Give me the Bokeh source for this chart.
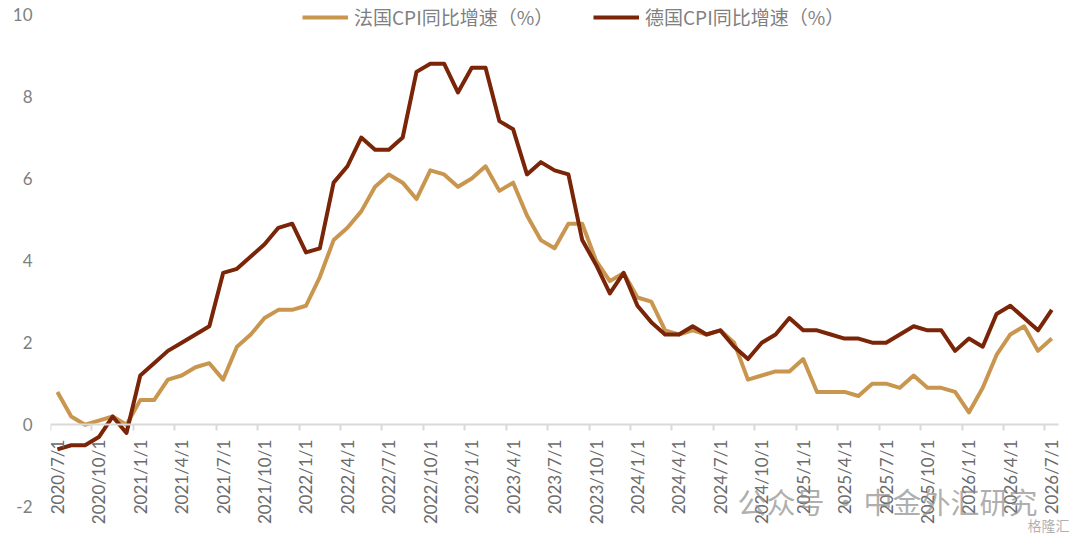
from math import pi
from bokeh.plotting import figure
from bokeh.models import Range1d, LinearAxis, FixedTicker, Legend, LegendItem, Label
from bokeh.embed import file_html
from bokeh.resources import INLINE

# ---------------- data ----------------
tick_labels = [
    "2020/7/1", "2020/10/1", "2021/1/1", "2021/4/1", "2021/7/1", "2021/10/1",
    "2022/1/1", "2022/4/1", "2022/7/1", "2022/10/1", "2023/1/1", "2023/4/1",
    "2023/7/1", "2023/10/1", "2024/1/1", "2024/4/1", "2024/7/1", "2024/10/1",
    "2025/1/1", "2025/4/1", "2025/7/1", "2025/10/1", "2026/1/1", "2026/4/1",
    "2026/7/1",
]
label_step = 3  # one label every 3 months

france = [
    0.8, 0.2, 0.0, 0.1, 0.2, 0.0, 0.6, 0.6, 1.1, 1.2, 1.4, 1.5,
    1.1, 1.9, 2.2, 2.6, 2.8, 2.8, 2.9, 3.6, 4.5, 4.8, 5.2, 5.8,
    6.1, 5.9, 5.5, 6.2, 6.1, 5.8, 6.0, 6.3, 5.7, 5.9, 5.1, 4.5,
    4.3, 4.9, 4.9, 4.0, 3.5, 3.7, 3.1, 3.0, 2.3, 2.2, 2.3, 2.2,
    2.3, 2.0, 1.1, 1.2, 1.3, 1.3, 1.6, 0.8, 0.8, 0.8, 0.7, 1.0,
    1.0, 0.9, 1.2, 0.9, 0.9, 0.8, 0.3, 0.9, 1.7, 2.2, 2.4, 1.8,
    2.1,
]
germany = [
    -0.6, -0.5, -0.5, -0.3, 0.2, -0.2, 1.2, 1.5, 1.8, 2.0, 2.2, 2.4,
    3.7, 3.8, 4.1, 4.4, 4.8, 4.9, 4.2, 4.3, 5.9, 6.3, 7.0, 6.7,
    6.7, 7.0, 8.6, 8.8, 8.8, 8.1, 8.7, 8.7, 7.4, 7.2, 6.1, 6.4,
    6.2, 6.1, 4.5, 3.9, 3.2, 3.7, 2.9, 2.5, 2.2, 2.2, 2.4, 2.2,
    2.3, 1.9, 1.6, 2.0, 2.2, 2.6, 2.3, 2.3, 2.2, 2.1, 2.1, 2.0,
    2.0, 2.2, 2.4, 2.3, 2.3, 1.8, 2.1, 1.9, 2.7, 2.9, 2.6, 2.3,
    2.8,
]
y_ticks = [-2, 0, 2, 4, 6, 8, 10]
series_names = ["法国CPI同比增速（%）", "德国CPI同比增速（%）"]
colors = ["#C9964F", "#7A2508"]
watermark = ["公众号", "·", "中金外汇研究", "格隆汇"]

# ---------------- figure ----------------
n = len(france)
x = [i + 0.5 for i in range(n)]  # points at category centres

# ranges padded a little so that overlay texts near the edges are not clipped
p = figure(
    width=1072, height=535,
    x_range=Range1d(0, n + 1.0), y_range=Range1d(-2.7, y_ticks[-1] + 0.34),
    x_axis_location=None,
    output_backend="svg", toolbar_location=None,
    min_border_left=50, min_border_right=0, min_border_top=0, min_border_bottom=0,
)
p.outline_line_color = None
p.grid.visible = False
p.background_fill_color = "white"
p.border_fill_color = "white"

label_font = "Lato"
gray = "#7f7f7f"

# y axis
p.yaxis.ticker = FixedTicker(ticks=y_ticks)
p.yaxis.major_label_overrides = {t: str(t) for t in y_ticks}
p.yaxis.axis_line_color = None
p.yaxis.major_tick_line_color = None
p.yaxis.minor_tick_line_color = None
p.yaxis.major_tick_out = 0
p.yaxis.major_tick_in = 0
p.yaxis.major_label_standoff = 18
p.yaxis.major_label_text_font = label_font
p.yaxis.major_label_text_font_size = "17px"
p.yaxis.major_label_text_color = gray

# x axis: line + ticks at category boundaries, drawn at y = 0
boundaries = list(range(0, n, label_step))
tick_axis = LinearAxis(
    fixed_location=0,
    bounds=(0, n),
    ticker=FixedTicker(ticks=boundaries, minor_ticks=[]),
    major_label_overrides={b: "" for b in boundaries},
    major_label_text_font_size="0px",
    axis_line_color="#d9d9d9", axis_line_width=2,
    major_tick_line_color="#d9d9d9", major_tick_line_width=2,
    major_tick_out=6, major_tick_in=0,
    minor_tick_line_color=None,
)
p.add_layout(tick_axis, "below")

# x axis labels at category centres
centres = [b + 0.5 for b in boundaries]
label_axis = LinearAxis(
    fixed_location=0,
    ticker=FixedTicker(ticks=centres, minor_ticks=[]),
    major_label_overrides={c: lab for c, lab in zip(centres, tick_labels)},
    major_label_orientation=pi / 2,
    axis_line_color=None,
    major_tick_line_color=None, minor_tick_line_color=None,
    major_tick_out=0, major_tick_in=0,
    major_label_standoff=15,
    major_label_text_font=label_font,
    major_label_text_font_size="17px",
    major_label_text_color="#6b6b6b",
)
p.add_layout(label_axis, "below")

# lines
r_fr = p.line(x, france, line_color=colors[0], line_width=4, line_join="round")
r_de = p.line(x, germany, line_color=colors[1], line_width=4, line_join="round")

# legends (two separate boxes so each sits where the reference puts it)
for r, name, vx in [(r_fr, series_names[0], 252), (r_de, series_names[1], 543)]:
    lg = Legend(
        items=[LegendItem(label=name, renderers=[r])],
        location=(vx, 505), orientation="horizontal",
        border_line_color=None, background_fill_alpha=0,
        padding=0, margin=0, spacing=0,
        glyph_width=46, glyph_height=20, label_height=20, label_standoff=6,
        label_text_font="Noto Sans CJK SC", label_text_font_size="19px",
        label_text_color="#808080",
    )
    p.add_layout(lg, "center")

# watermark overlay
wm = dict(x_units="screen", y_units="screen", text_font="Noto Sans CJK SC",
          text_color="#8c8c8c", text_alpha=0.7, text_baseline="middle")
p.add_layout(Label(x=687, y=35, text=watermark[0], text_font_size="29px", text_align="left", **wm))
p.add_layout(Label(x=795, y=35, text=watermark[1], text_font_size="29px", text_align="center", **wm))
p.add_layout(Label(x=813, y=35, text=watermark[2], text_font_size="29px", text_align="left", **wm))
p.add_layout(Label(x=977, y=11, text=watermark[3], text_font_size="14px", text_align="left", **wm))

open("out.html", "w").write(file_html(p, INLINE))
